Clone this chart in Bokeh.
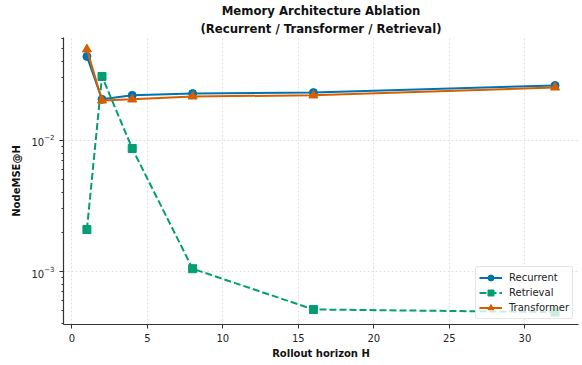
from bokeh.plotting import figure
from bokeh.models import Range1d, LogTicker, Title
from bokeh.embed import file_html
from bokeh.resources import INLINE

horizons = [1, 2, 4, 8, 16, 32]
recurrent = [0.0438, 0.0206, 0.0221, 0.0228, 0.0232, 0.0263]
retrieval = [0.00209, 0.0308, 0.00869, 0.00105, 0.000513, 0.00049]
transformer = [0.0496, 0.0202, 0.0206, 0.0217, 0.0221, 0.0254]

title_main = "Memory Architecture Ablation"
title_sub = "(Recurrent / Transformer / Retrieval)"
y_label = "NodeMSE@H"
x_label = "Rollout horizon H"
x_ticks = [0, 5, 10, 15, 20, 25, 30]

FONT = "DejaVu Sans"
c_rec = "#0173B2"
c_ret = "#029E73"
c_tra = "#D55E00"

p = figure(width=582, height=365, y_axis_type="log",
           x_range=Range1d(-0.55, 33.55), y_range=Range1d(3.94e-4, 0.0611),
           output_backend="svg", toolbar_location=None,
           min_border_left=63, min_border_right=4, min_border_top=37, min_border_bottom=41)

# outer (top) line
p.title.text = title_main
p.title.align = "center"
p.title.text_font = FONT
p.title.text_font_size = "11.7px"
p.title.text_font_style = "bold"
p.title.text_color = "#111111"
p.title.offset = 0
p.title.standoff = 1

# inner (second) line, nearest the plot
p.add_layout(Title(text=title_sub, align="center", text_font=FONT, text_font_size="11.7px",
                   text_font_style="bold", text_color="#111111", offset=0, standoff=3), "above")

p.outline_line_color = None
p.background_fill_color = "white"

for ax in (p.xaxis[0], p.yaxis[0]):
    ax.axis_line_color = "#333333"
    ax.axis_line_width = 1.2
    ax.major_tick_line_color = "#333333"
    ax.minor_tick_line_color = "#333333"
    ax.major_tick_in = 0
    ax.major_tick_out = 4
    ax.minor_tick_in = 0
    ax.minor_tick_out = 2
    ax.major_label_text_font = FONT
    ax.major_label_text_font_size = "10px"
    ax.major_label_text_color = "#262626"
    ax.axis_label_text_font = FONT
    ax.axis_label_text_font_size = "10px"
    ax.axis_label_text_font_style = "bold"
    ax.axis_label_text_color = "#111111"

p.xaxis.ticker = x_ticks
p.xaxis.minor_tick_line_color = None
p.xaxis.major_label_standoff = 5
p.xaxis.axis_label = x_label
p.xaxis.axis_label_standoff = 3
p.yaxis.axis_label = y_label
p.yaxis.major_label_standoff = 5
p.yaxis.axis_label_standoff = 6
p.yaxis.ticker = LogTicker(num_minor_ticks=10)

p.xgrid.grid_line_color = "#e0e0e0"
p.xgrid.grid_line_dash = "2 2"
p.ygrid.grid_line_color = "#e0e0e0"
p.ygrid.grid_line_dash = "2 2"

p.line(horizons, recurrent, color=c_rec, line_width=2, legend_label="Recurrent")
p.scatter(horizons, recurrent, marker="circle", size=8, color=c_rec, legend_label="Recurrent")
p.line(horizons, retrieval, color=c_ret, line_width=2, line_dash="7 3", legend_label="Retrieval")
p.scatter(horizons, retrieval, marker="square", size=8, color=c_ret, legend_label="Retrieval")
p.line(horizons, transformer, color=c_tra, line_width=2, legend_label="Transformer")
p.scatter(horizons, transformer, marker="triangle", size=9, color=c_tra, legend_label="Transformer")

lg = p.legend[0]
lg.location = "bottom_right"
lg.margin = 5
lg.padding = 3
lg.spacing = 0
lg.label_height = 15
lg.glyph_height = 15
lg.glyph_width = 23
lg.label_standoff = 7
lg.label_text_font = FONT
lg.label_text_font_size = "10px"
lg.label_text_color = "#222222"
lg.border_line_color = "#cccccc"
lg.border_line_width = 1
lg.border_radius = 3
lg.background_fill_alpha = 0.8

open("out.html", "w").write(file_html(p, INLINE))
